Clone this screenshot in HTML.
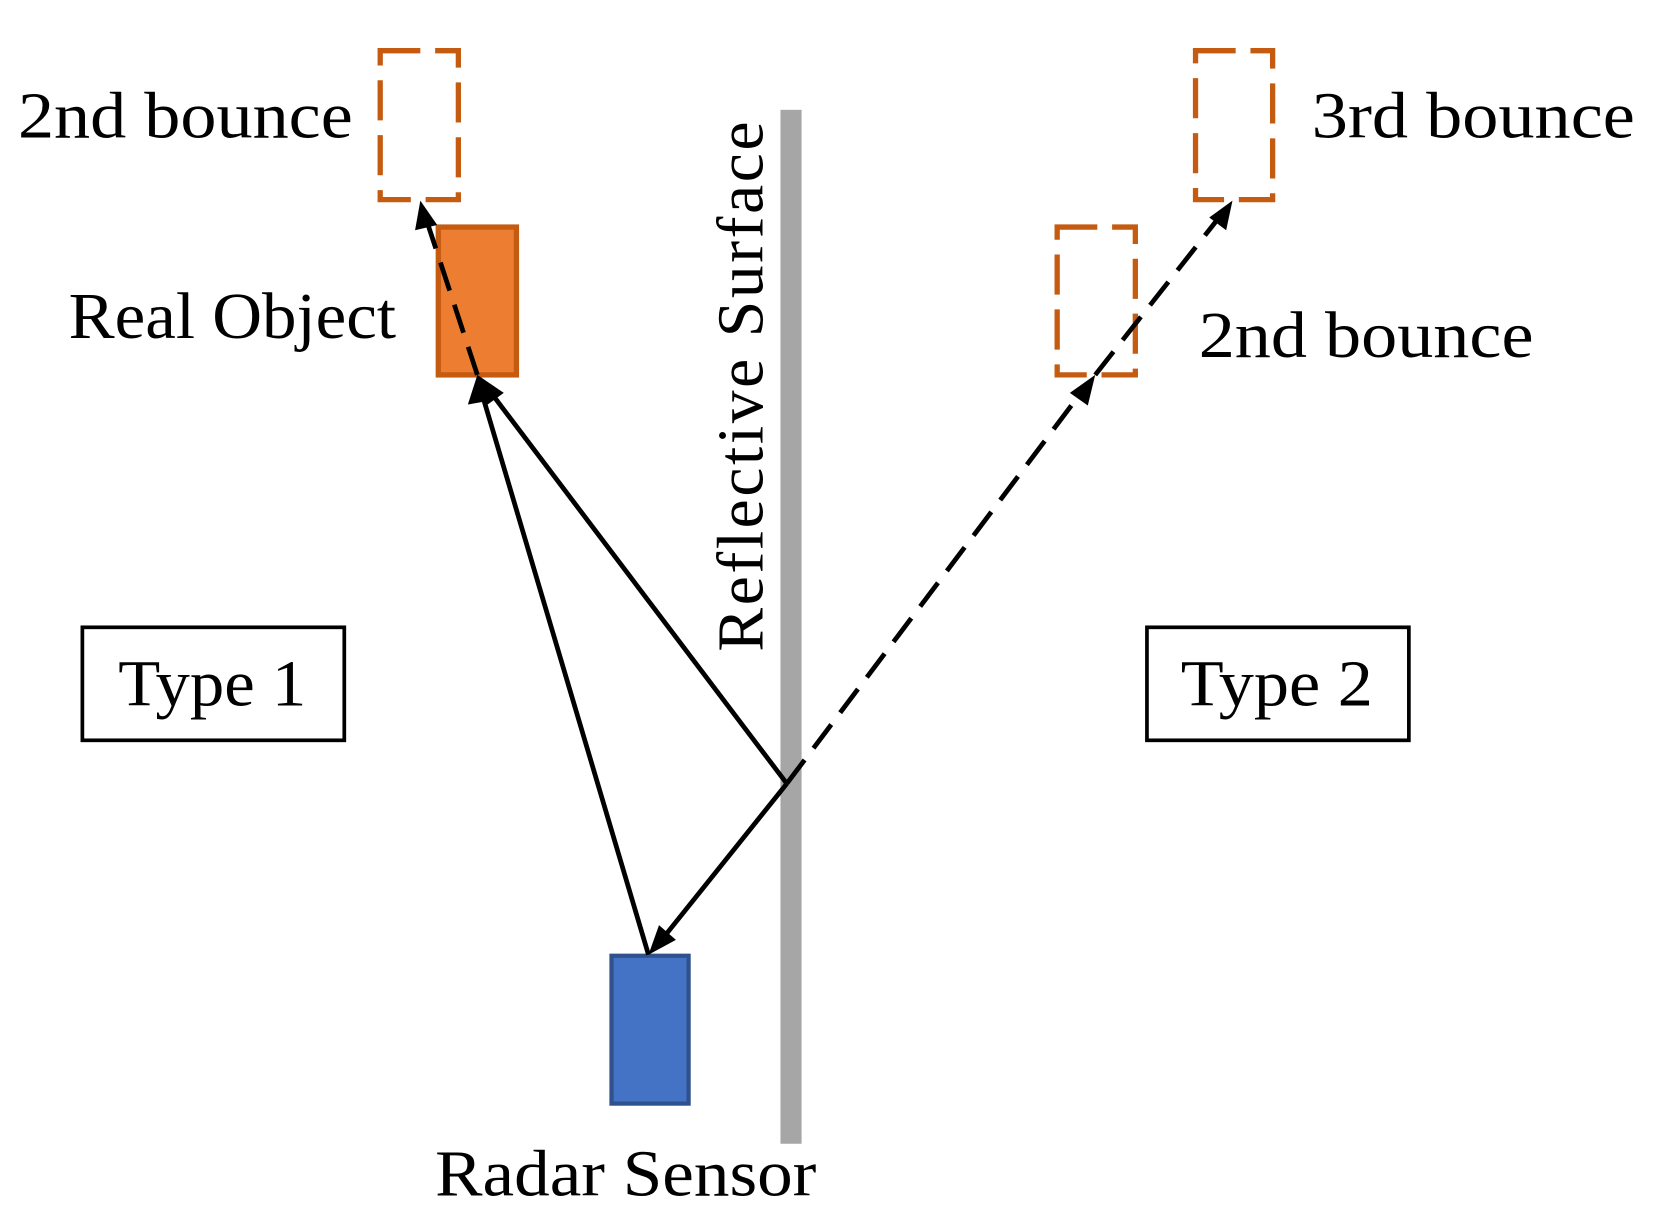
<!DOCTYPE html>
<html><head><style>html,body{margin:0;padding:0;background:#fff}svg{display:block}</style></head>
<body>
<svg width="1656" height="1224" viewBox="0 0 1568 1159" preserveAspectRatio="none" xmlns="http://www.w3.org/2000/svg" font-family="'Liberation Serif', serif" font-size="62" fill="#000">
<rect x="739" y="104" width="20" height="979" fill="#A6A6A6"/>
<rect x="360" y="48" width="74" height="141" fill="none" stroke="#C55A11" stroke-width="5" stroke-dasharray="38,14"/>
<rect x="1132" y="48" width="73" height="141" fill="none" stroke="#C55A11" stroke-width="5" stroke-dasharray="38,14"/>
<rect x="1001" y="215" width="74" height="140" fill="none" stroke="#C55A11" stroke-width="5" stroke-dasharray="38,14"/>
<rect x="415" y="215" width="74" height="140" fill="#ED7D31" stroke="#C55A11" stroke-width="5"/>
<rect x="579" y="905" width="73" height="140" fill="#4472C4" stroke="#2F528F" stroke-width="4"/>
<rect x="78" y="594" width="248" height="107" fill="none" stroke="#000" stroke-width="3.5"/>
<rect x="1086" y="594" width="248" height="107" fill="none" stroke="#000" stroke-width="3.5"/>
<g stroke="#000" stroke-width="4.5" fill="none">
<line x1="614" y1="904" x2="457" y2="375"/>
<line x1="745" y1="742" x2="465" y2="372"/>
<line x1="745" y1="742" x2="628" y2="888"/>
<line x1="452" y1="355" x2="405" y2="212" stroke-dasharray="28,14"/>
<line x1="745" y1="742" x2="1025" y2="370" stroke-dasharray="28,14"/>
<line x1="1037" y1="355" x2="1155" y2="205" stroke-dasharray="28,14"/>
</g>
<g fill="#000">
<polygon points="452,355 443,383 466,379"/>
<polygon points="452,355 459,385 477,372"/>
<polygon points="614,904 624,876 640,890"/>
<polygon points="398,190 393,218 414,213"/>
<polygon points="1037,355 1013,372 1030,384"/>
<polygon points="1167,190 1145,206 1161,218"/>
</g>
<text x="17" y="130" textLength="317" lengthAdjust="spacingAndGlyphs">2nd bounce</text>
<text x="65" y="320" textLength="310" lengthAdjust="spacingAndGlyphs">Real Object</text>
<text x="1242" y="130" textLength="306" lengthAdjust="spacingAndGlyphs">3rd bounce</text>
<text x="1135" y="338" textLength="317" lengthAdjust="spacingAndGlyphs">2nd bounce</text>
<text x="112" y="668" textLength="178" lengthAdjust="spacingAndGlyphs">Type 1</text>
<text x="1118" y="668" textLength="182" lengthAdjust="spacingAndGlyphs">Type 2</text>
<text x="412" y="1132" textLength="361" lengthAdjust="spacingAndGlyphs">Radar Sensor</text>
<text transform="translate(722,617) rotate(-90)" textLength="502">Reflective  Surface</text>
</svg>
</body></html>
